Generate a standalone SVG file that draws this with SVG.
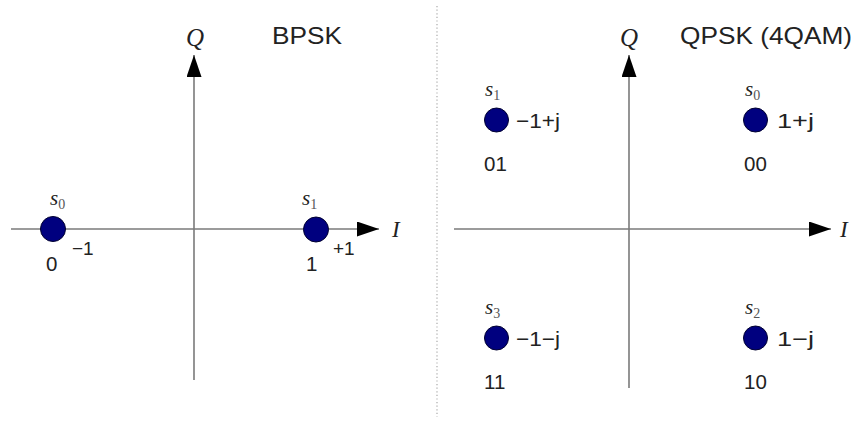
<svg xmlns="http://www.w3.org/2000/svg" width="856" height="421" viewBox="0 0 856 421">
<style>
.ax{stroke:#7a7a7a;stroke-width:1.6;fill:none}
.pt{fill:#00007f;stroke:#000030;stroke-width:1}
.t{font-family:"Liberation Sans",Arial,sans-serif;fill:#222}
.lab{font-size:20.5px}
.sm{font-size:19px}
.ttl{font-size:24px}
.m{font-family:"Liberation Serif","Times New Roman",serif;font-style:italic;fill:#222}
.ms{font-size:21px}
.sub{font-size:14px;font-style:normal;fill:#555}
.div{stroke:#aaaaaa;stroke-width:1.2;stroke-dasharray:1.2 2.4}
</style>
<defs>
<marker id="ah" markerUnits="userSpaceOnUse" markerWidth="24" markerHeight="16" refX="22" refY="7.5" orient="auto">
<path d="M0,0 L22,7.5 L0,15 Z" fill="#000"/>
</marker>
</defs>
<rect width="856" height="421" fill="#fff"/>
<g id="connectors">
<line class="ax" x1="11" y1="229" x2="379" y2="229" marker-end="url(#ah)"/>
<line class="ax" x1="194" y1="380" x2="194" y2="55" marker-end="url(#ah)"/>
<line class="ax" x1="454" y1="229" x2="831" y2="229" marker-end="url(#ah)"/>
<line class="ax" x1="629" y1="388" x2="629" y2="55" marker-end="url(#ah)"/>
<line class="div" x1="437" y1="6" x2="437" y2="417"/>
</g>
<g id="bpsk-labels">
<text class="t ttl" x="272" y="44" textLength="70" lengthAdjust="spacingAndGlyphs">BPSK</text>
<text class="m" x="186" y="46" font-size="25">Q</text>
<text class="m" x="392" y="237" font-size="23">I</text>
</g>
<g id="bpsk-s0">
<circle class="pt" cx="53" cy="229" r="12.5"/>
<text class="m ms" x="50" y="205">s<tspan class="sub" dy="4">0</tspan></text>
<text class="t sm" x="72" y="255">−1</text>
<text class="t lab" x="46" y="271">0</text>
</g>
<g id="bpsk-s1">
<circle class="pt" cx="316" cy="229.5" r="12.5"/>
<text class="m ms" x="302" y="205">s<tspan class="sub" dy="4">1</tspan></text>
<text class="t sm" x="333" y="255">+1</text>
<text class="t lab" x="306" y="271">1</text>
</g>
<g id="qpsk-labels">
<text class="t ttl" x="680" y="44" textLength="172" lengthAdjust="spacingAndGlyphs">QPSK (4QAM)</text>
<text class="m" x="620" y="46" font-size="25">Q</text>
<text class="m" x="840" y="237" font-size="23">I</text>
</g>
<g id="qpsk-s1">
<circle class="pt" cx="496.5" cy="120" r="12"/>
<text class="m ms" x="485" y="96">s<tspan class="sub" dy="4">1</tspan></text>
<text class="t lab" x="516" y="128" textLength="44" lengthAdjust="spacingAndGlyphs">−1+j</text>
<text class="t lab" x="484" y="171">01</text>
</g>
<g id="qpsk-s0">
<circle class="pt" cx="755.5" cy="120" r="12"/>
<text class="m ms" x="745" y="96">s<tspan class="sub" dy="4">0</tspan></text>
<text class="t lab" x="777" y="128" textLength="37" lengthAdjust="spacingAndGlyphs">1+j</text>
<text class="t lab" x="744" y="171">00</text>
</g>
<g id="qpsk-s3">
<circle class="pt" cx="496.5" cy="338" r="12"/>
<text class="m ms" x="485" y="314">s<tspan class="sub" dy="4">3</tspan></text>
<text class="t lab" x="516" y="346" textLength="44" lengthAdjust="spacingAndGlyphs">−1−j</text>
<text class="t lab" x="484" y="389">11</text>
</g>
<g id="qpsk-s2">
<circle class="pt" cx="755.5" cy="338" r="12"/>
<text class="m ms" x="745" y="314">s<tspan class="sub" dy="4">2</tspan></text>
<text class="t lab" x="777" y="346" textLength="37" lengthAdjust="spacingAndGlyphs">1−j</text>
<text class="t lab" x="744" y="389">10</text>
</g>
</svg>
